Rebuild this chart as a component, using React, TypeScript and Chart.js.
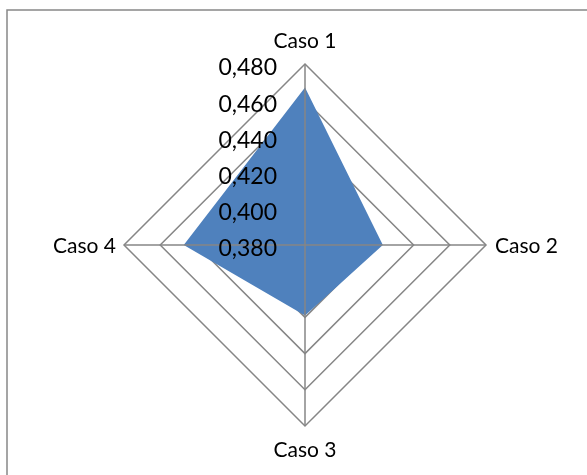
import React, { useEffect, useRef } from "react";
import { Chart, registerables } from "chart.js";

Chart.register(...registerables);

const categories = ["Caso 1", "Caso 2", "Caso 3", "Caso 4"];
const seriesValues = [0.467, 0.423, 0.419, 0.447];
const tickValues = [0.38, 0.4, 0.42, 0.44, 0.46, 0.48];
const tickLabels = ["0,380", "0,400", "0,420", "0,440", "0,460", "0,480"];

const FONT = "Lato, 'Open Sans', sans-serif";
const GRID = "#868686";

const overlayPlugin = {
  id: "overlay",
  beforeDraw(chart: any) {
    const ctx = chart.ctx;
    ctx.save();
    ctx.fillStyle = "#ffffff";
    ctx.fillRect(0, 0, chart.width, chart.height);
    ctx.strokeStyle = "#888888";
    ctx.lineWidth = 1.5;
    ctx.beginPath();
    ctx.moveTo(7, chart.height);
    ctx.lineTo(7, 10);
    ctx.lineTo(chart.width, 10);
    ctx.stroke();
    ctx.restore();
  },
  afterDatasetsDraw(chart: any) {
    const ctx = chart.ctx;
    const scale = chart.scales.r;
    const xc = scale.xCenter;
    const yc = scale.yCenter;
    const maxR = scale.getDistanceFromCenterForValue(scale.max);
    ctx.save();
    // angle lines on top of the fill
    ctx.strokeStyle = GRID;
    ctx.lineWidth = 1.5;
    for (let i = 0; i < categories.length; i++) {
      const p = scale.getPointPosition(i, maxR);
      ctx.beginPath();
      ctx.moveTo(xc, yc);
      ctx.lineTo(p.x, p.y);
      ctx.stroke();
    }
    // tick labels
    ctx.fillStyle = "#000000";
    ctx.font = `23px ${FONT}`;
    ctx.textAlign = "right";
    ctx.textBaseline = "middle";
    tickValues.forEach((v, i) => {
      const d = scale.getDistanceFromCenterForValue(v);
      ctx.fillText(tickLabels[i], xc - 28, yc - d + 4);
    });
    // point labels
    ctx.font = `21px ${FONT}`;
    for (let i = 0; i < categories.length; i++) {
      const p = scale.getPointPosition(i, maxR);
      if (i === 0) {
        ctx.textAlign = "center";
        ctx.textBaseline = "middle";
        ctx.fillText(categories[i], p.x, p.y - 23);
      } else if (i === 1) {
        ctx.textAlign = "left";
        ctx.textBaseline = "middle";
        ctx.fillText(categories[i], p.x + 9, p.y + 1);
      } else if (i === 2) {
        ctx.textAlign = "center";
        ctx.textBaseline = "middle";
        ctx.fillText(categories[i], p.x, p.y + 24);
      } else {
        ctx.textAlign = "right";
        ctx.textBaseline = "middle";
        ctx.fillText(categories[i], p.x - 8, p.y + 1);
      }
    }
    ctx.restore();
  },
};

export default function App() {
  const ref = useRef<HTMLCanvasElement>(null);
  useEffect(() => {
    if (!ref.current) return;
    const chart = new Chart(ref.current, {
      type: "radar",
      data: {
        labels: categories,
        datasets: [
          {
            data: seriesValues,
            backgroundColor: "#4F81BD",
            borderColor: "#4F81BD",
            borderWidth: 0,
            fill: true,
            pointRadius: 0,
          },
        ],
      },
      options: {
        responsive: false,
        animation: false,
        layout: { padding: { left: 124, right: 101, top: 64, bottom: 49 } },
        plugins: { legend: { display: false }, tooltip: { enabled: false } },
        scales: {
          r: {
            min: 0.38,
            max: 0.48,
            ticks: { display: false, stepSize: 0.02 },
            pointLabels: { display: false },
            angleLines: { display: false },
            grid: { color: GRID, lineWidth: 1.5 },
          },
        },
      },
      plugins: [overlayPlugin],
    });
    return () => chart.destroy();
  }, []);
  return (
    <div style={{ position: "fixed", left: 0, top: 0, width: 587, height: 475 }}>
      <canvas ref={ref} width={587} height={475} style={{ width: 587, height: 475 }} />
    </div>
  );
}
